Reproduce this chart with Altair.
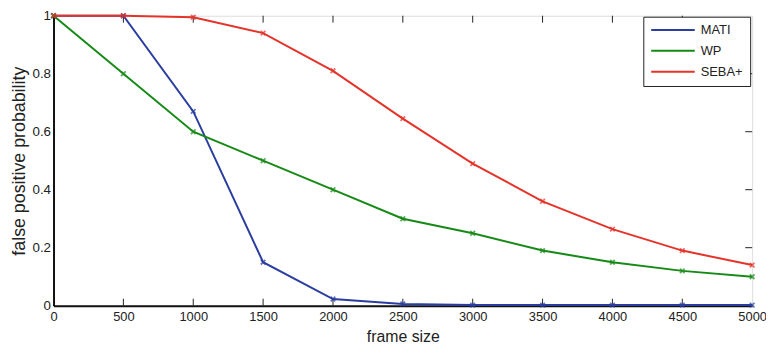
import altair as alt
import pandas as pd

frame_sizes = [0, 500, 1000, 1500, 2000, 2500, 3000, 3500, 4000, 4500, 5000]
mati = [1.0, 1.0, 0.67, 0.15, 0.023, 0.006, 0.002, 0.002, 0.002, 0.002, 0.002]
wp = [1.0, 0.8, 0.6, 0.5, 0.4, 0.3, 0.25, 0.19, 0.15, 0.12, 0.10]
seba = [1.0, 1.0, 0.995, 0.94, 0.81, 0.645, 0.49, 0.36, 0.264, 0.19, 0.14]
series_names = ["MATI", "WP", "SEBA+"]
series_colors = ["#2b3ea0", "#168a16", "#e5332a"]
x_ticks = [0, 500, 1000, 1500, 2000, 2500, 3000, 3500, 4000, 4500, 5000]
y_ticks = [0, 0.2, 0.4, 0.6, 0.8, 1.0]

rows = []
for name, vals in zip(series_names, [mati, wp, seba]):
    for fx, v in zip(frame_sizes, vals):
        rows.append({"frame": fx, "p": v, "series": name})
df = pd.DataFrame(rows)

W, H = 706, 293
FONT = "Liberation Sans"
TXT = "#222222"

xscale = alt.Scale(domain=[0, 5000], nice=False, zero=False)
yscale = alt.Scale(domain=[0, 1], nice=False)
color = alt.Color(
    "series:N",
    scale=alt.Scale(domain=series_names, range=series_colors),
    legend=alt.Legend(
        title=None,
        orient="none",
        legendX=596,
        legendY=1,
        strokeColor="#222",
        fillColor="white",
        padding=7,
        symbolType="M-1,0L7,0",
        symbolSize=121,
        symbolStrokeWidth=2,
        labelFontSize=13,
        labelFont=FONT,
        labelColor=TXT,
        rowPadding=7,
        labelOffset=38,
    ),
)

base = alt.Chart(df)
lines = base.mark_line(strokeWidth=2).encode(
    x=alt.X(
        "frame:Q",
        scale=xscale,
        axis=alt.Axis(
            values=x_ticks, format="d", title="frame size", grid=False, tickSize=0,
            labelPadding=5, labelFontSize=13, labelFont=FONT, labelColor=TXT,
            titleFontSize=16, titleFont=FONT, titleFontWeight="normal",
            titleColor=TXT, titlePadding=5, domainColor="#111", domainWidth=2,
            labelFlush=False,
        ),
    ),
    y=alt.Y(
        "p:Q",
        scale=yscale,
        axis=alt.Axis(
            values=y_ticks, format="~g", title="false positive probability",
            grid=False, tickSize=0, labelPadding=3, labelFontSize=13.5,
            labelFont=FONT, labelColor=TXT, titleFontSize=18, titleFont=FONT,
            titleFontWeight="normal", titleColor=TXT, titlePadding=4,
            domainColor="#111", domainWidth=2,
        ),
    ),
    color=color,
    order="frame:Q",
)
points = base.mark_point(
    shape="M-1,-1L1,1M-1,1L1,-1", size=22, strokeWidth=1.8, filled=False
).encode(
    x=alt.X("frame:Q", scale=xscale),
    y=alt.Y("p:Q", scale=yscale),
    color=alt.Color("series:N", scale=alt.Scale(domain=series_names, range=series_colors), legend=None),
)

xt = pd.DataFrame({"t": x_ticks[1:-1]})
yt = pd.DataFrame({"t": y_ticks[1:-1]})
bottom_ticks = alt.Chart(xt).mark_rule(color="#222", strokeWidth=1).encode(
    x=alt.X("t:Q", scale=xscale), y=alt.value(H), y2=alt.value(H - 7)
)
top_ticks = alt.Chart(xt).mark_rule(color="#222", strokeWidth=1).encode(
    x=alt.X("t:Q", scale=xscale), y=alt.value(0), y2=alt.value(7)
)
right_ticks = alt.Chart(yt).mark_rule(color="#222", strokeWidth=1).encode(
    y=alt.Y("t:Q", scale=yscale), x=alt.value(W), x2=alt.value(W - 7)
)

chart = (
    alt.layer(bottom_ticks, top_ticks, right_ticks, lines, points)
    .properties(
        width=W,
        height=H,
        autosize=alt.AutoSizeParams(type="none"),
        padding={"left": 46, "top": 6, "right": 14, "bottom": 45},
    )
    .configure_view(stroke="#111", strokeWidth=1.5)
    .configure(background="white")
)

chart.save("out.html", embed_options={"renderer": "svg", "actions": False})
